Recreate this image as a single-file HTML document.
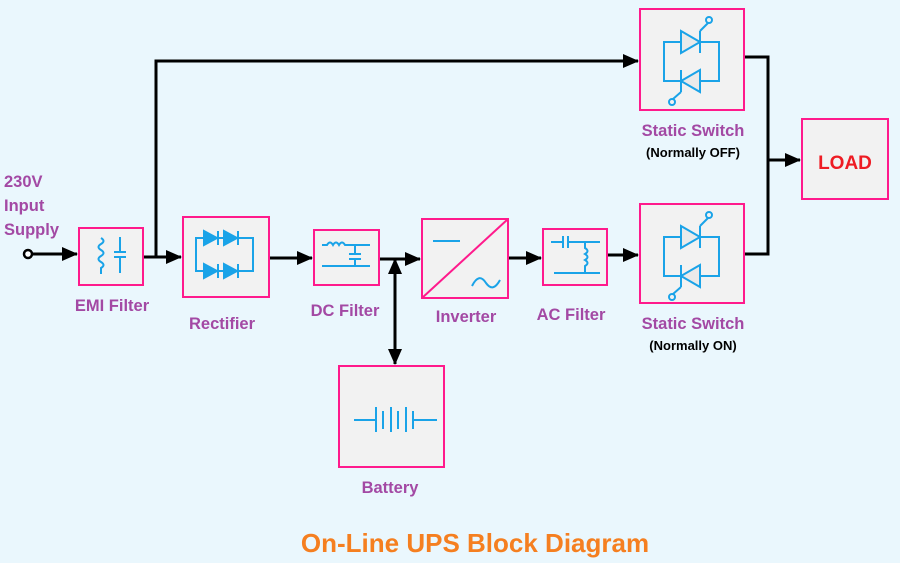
<!DOCTYPE html>
<html><head><meta charset="utf-8"><style>
html,body{margin:0;padding:0;background:#eaf7fd;}
svg{display:block;}
text{font-family:"Liberation Sans",sans-serif;font-weight:bold;}
</style></head><body>
<svg width="900" height="563" viewBox="0 0 900 563" xmlns="http://www.w3.org/2000/svg">
<defs>
<marker id="ar2" markerWidth="16" markerHeight="14" refX="15" refY="7" orient="auto-start-reverse" markerUnits="userSpaceOnUse" viewBox="0 0 16 14">
<path d="M0,0 L16,7 L0,14 z" fill="#000"/></marker>
<g id="scr" stroke="#1aa3e8" stroke-width="2" fill="none">
<rect x="24" y="33" width="55" height="39"/>
<path d="M41,22 L41,44 L60,33 z" fill="#eaeaea"/>
<line x1="60" y1="22" x2="60" y2="44"/>
<line x1="60" y1="22" x2="68" y2="14"/>
<circle cx="69" cy="11" r="3"/>
<path d="M60,61 L60,83 L41,72 z" fill="#eaeaea"/>
<line x1="41" y1="61" x2="41" y2="83"/>
<line x1="41" y1="83" x2="33" y2="90"/>
<circle cx="32" cy="93" r="3"/>
</g>
</defs>
<g stroke="#000" stroke-width="3" fill="none">
<line x1="31" y1="254" x2="77" y2="254" marker-end="url(#ar2)"/>
<line x1="143" y1="257" x2="181" y2="257" marker-end="url(#ar2)"/>
<polyline points="156,257 156,61 638,61" marker-end="url(#ar2)"/>
<line x1="269" y1="258" x2="312" y2="258" marker-end="url(#ar2)"/>
<line x1="379" y1="259" x2="420" y2="259" marker-end="url(#ar2)"/>
<line x1="395" y1="259" x2="395" y2="364" marker-start="url(#ar2)" marker-end="url(#ar2)"/>
<line x1="508" y1="258" x2="541" y2="258" marker-end="url(#ar2)"/>
<line x1="607" y1="255" x2="638" y2="255" marker-end="url(#ar2)"/>
<polyline points="744,57 768,57 768,254 744,254"/>
<line x1="768" y1="160" x2="800" y2="160" marker-end="url(#ar2)"/>
</g>
<circle cx="28" cy="254" r="4" fill="#fff" stroke="#000" stroke-width="2.5"/>
<g fill="#f2f2f2" stroke="#ff1a8c" stroke-width="2">
<rect x="79" y="228" width="64" height="57"/>
<rect x="183" y="217" width="86" height="80"/>
<rect x="314" y="230" width="65" height="55"/>
<rect x="422" y="219" width="86" height="79"/>
<rect x="543" y="229" width="64" height="56"/>
<rect x="640" y="9" width="104" height="101"/>
<rect x="640" y="204" width="104" height="99"/>
<rect x="802" y="119" width="86" height="80"/>
<rect x="339" y="366" width="105" height="101"/>
</g>
<line x1="422" y1="298" x2="508" y2="219" stroke="#ff1a8c" stroke-width="2"/>
<g stroke="#1aa3e8" stroke-width="2" fill="none">
<path d="M101,238 q5,3 0,6 q-5,3 0,6 q5,3 0,6 q-5,3 0,6 q5,3 0,6 v6"/>
<line x1="120" y1="237" x2="120" y2="252"/><line x1="114" y1="252" x2="126" y2="252"/>
<line x1="114" y1="257" x2="126" y2="257"/><line x1="120" y1="257" x2="120" y2="273"/>
<rect x="196" y="238" width="57" height="33"/>
<path d="M204,231 L204,245 L217,238 z M224,231 L224,245 L237,238 z M204,264 L204,278 L217,271 z M224,264 L224,278 L237,271 z" fill="#1aa3e8"/>
<line x1="218" y1="231" x2="218" y2="245"/><line x1="238" y1="231" x2="238" y2="245"/>
<line x1="218" y1="264" x2="218" y2="278"/><line x1="238" y1="264" x2="238" y2="278"/>
<path d="M322,245 h5 q3,-5 6,0 q3,-5 6,0 q3,-5 6,0 h25"/>
<line x1="355" y1="245" x2="355" y2="254"/><line x1="349" y1="254" x2="361" y2="254"/>
<line x1="349" y1="259" x2="361" y2="259"/><line x1="355" y1="259" x2="355" y2="266"/>
<line x1="322" y1="266" x2="370" y2="266"/>
<line x1="433" y1="241" x2="460" y2="241"/>
<path d="M472,286 q7,-14 14,-3 q7,10 14,-3"/>
<line x1="551" y1="242" x2="563" y2="242"/><line x1="563" y1="236" x2="563" y2="248"/>
<line x1="568" y1="236" x2="568" y2="248"/><line x1="568" y1="242" x2="600" y2="242"/>
<path d="M585,242 v6 q5,3 0,6 q5,3 0,6 q5,3 0,6 v7"/>
<line x1="554" y1="273" x2="600" y2="273"/>
<line x1="354" y1="420" x2="376" y2="420"/>
<line x1="376" y1="407" x2="376" y2="432"/>
<line x1="383" y1="411" x2="383" y2="429"/>
<line x1="391" y1="407" x2="391" y2="432"/>
<line x1="398" y1="411" x2="398" y2="429"/>
<line x1="406" y1="407" x2="406" y2="432"/>
<line x1="413" y1="411" x2="413" y2="429"/>
<line x1="413" y1="420" x2="437" y2="420"/>
</g>
<use href="#scr" x="640" y="9"/>
<use href="#scr" x="640" y="204"/>
<g fill="#a349a4" font-size="16.5">
<text x="4" y="187">230V</text>
<text x="4" y="211">Input</text>
<text x="4" y="235">Supply</text>
<text x="112" y="311" text-anchor="middle">EMI Filter</text>
<text x="222" y="329" text-anchor="middle">Rectifier</text>
<text x="345" y="316" text-anchor="middle">DC Filter</text>
<text x="466" y="322" text-anchor="middle">Inverter</text>
<text x="571" y="320" text-anchor="middle">AC Filter</text>
<text x="693" y="136" text-anchor="middle">Static Switch</text>
<text x="693" y="329" text-anchor="middle">Static Switch</text>
<text x="390" y="493" text-anchor="middle">Battery</text>
</g>
<g fill="#000" font-size="13" text-anchor="middle">
<text x="693" y="157">(Normally OFF)</text>
<text x="693" y="350">(Normally ON)</text>
</g>
<text x="845" y="169" text-anchor="middle" fill="#ee1c24" font-size="19">LOAD</text>
<text x="475" y="552" text-anchor="middle" fill="#f57f20" font-size="26">On-Line UPS Block Diagram</text>
</svg>
</body></html>
